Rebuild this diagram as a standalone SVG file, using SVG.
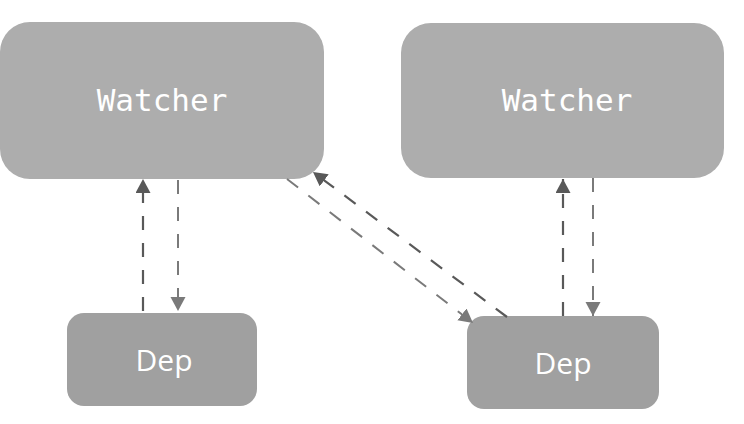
<svg xmlns="http://www.w3.org/2000/svg" width="744" height="424" viewBox="0 0 744 424">
<style>
.w{fill:#adadad}
.d{fill:#a0a0a0}
.t{fill:#ffffff;text-anchor:middle}
.tw{font-family:"DejaVu Sans Mono","Liberation Mono",monospace;font-size:31px}
.td{font-family:"Open Sans","Noto Sans",sans-serif;font-size:30px}
.dk{stroke:#595959;stroke-width:2.2;fill:none;stroke-dasharray:14 13}
.lt{stroke:#7a7a7a;stroke-width:2;fill:none;stroke-dasharray:14 13}
</style>
<defs>
<marker id="ad" markerUnits="userSpaceOnUse" markerWidth="16" markerHeight="16" refX="14" refY="7.5" orient="auto">
<path d="M0,0 L14,7.5 L0,15 z" fill="#595959"/>
</marker>
<marker id="al" markerUnits="userSpaceOnUse" markerWidth="16" markerHeight="16" refX="14" refY="7.5" orient="auto">
<path d="M0,0 L14,7.5 L0,15 z" fill="#7a7a7a"/>
</marker>
</defs>
<rect width="744" height="424" fill="#ffffff"/>
<g id="watcher1"><rect class="w" x="0" y="22" width="324" height="157" rx="30"/><text class="t tw" x="162" y="111">Watcher</text></g>
<g id="watcher2"><rect class="w" x="401" y="23" width="323" height="155" rx="30"/><text class="t tw" x="567" y="111">Watcher</text></g>
<g id="dep1"><rect class="d" x="67" y="313" width="190" height="93" rx="17"/><text class="t td" x="164" y="371">Dep</text></g>
<g id="dep2"><rect class="d" x="467" y="316" width="192" height="93" rx="17"/><text class="t td" x="563" y="374">Dep</text></g>
<g id="connectors">
<line class="dk" x1="143" y1="311" x2="143" y2="179" marker-end="url(#ad)"/>
<line class="lt" x1="178" y1="180" x2="178" y2="311" marker-end="url(#al)"/>
<line class="lt" x1="287" y1="179" x2="473" y2="323" marker-end="url(#al)"/>
<line class="dk" x1="507" y1="317" x2="313" y2="172" marker-end="url(#ad)"/>
<line class="dk" x1="563" y1="316" x2="563" y2="179" marker-end="url(#ad)"/>
<line class="lt" x1="593" y1="178" x2="593" y2="316" marker-end="url(#al)"/>
</g>
</svg>
